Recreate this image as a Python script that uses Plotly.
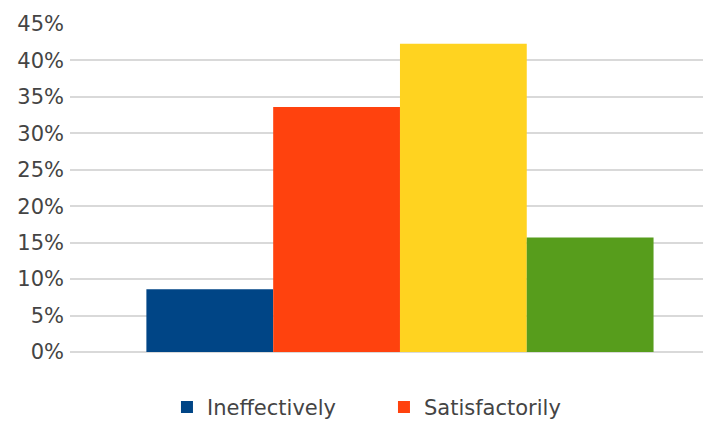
import plotly.graph_objects as go

series_names = ["Ineffectively", "Satisfactorily", "Effectively", "Very effectively"]
series_values = [8.6, 33.6, 42.3, 15.7]
series_colors = ["#004586", "#ff420e", "#ffd320", "#579d1c"]
legend_shown = [True, True, False, False]
y_ticks = [0, 5, 10, 15, 20, 25, 30, 35, 40, 45]
y_tick_labels = [f"{v}%" for v in y_ticks]

fig = go.Figure()
for name, val, col, show in zip(series_names, series_values, series_colors, legend_shown):
    fig.add_trace(go.Bar(
        x=[0], y=[val], name=name, marker=dict(color=col, line=dict(width=0)),
        showlegend=show,
    ))

fig.update_layout(
    width=703, height=423,
    margin=dict(l=70, r=0, t=24, b=71, autoexpand=False),
    paper_bgcolor="white", plot_bgcolor="white",
    barmode="group", bargap=0.2, bargroupgap=0,
    font=dict(family="DejaVu Sans, sans-serif", size=21, color="#444444"),
    xaxis=dict(range=[-0.5205, 0.478], showticklabels=False, showgrid=False,
               zeroline=False, showline=False, fixedrange=True, automargin=False),
    yaxis=dict(range=[0, 45], tickvals=y_ticks, ticktext=y_tick_labels,
               showgrid=True, gridcolor="#d9d9d9", gridwidth=2,
               zeroline=True, zerolinecolor="#d9d9d9", zerolinewidth=2,
               showline=False, ticks="", ticklabelstandoff=5, automargin=False),
    legend=dict(orientation="h", x=0.1532, xanchor="left", y=-0.1684, yanchor="middle",
                font=dict(size=21, color="#444444"), itemwidth=30,
                entrywidth=172, entrywidthmode="pixels",
                traceorder="normal"),
)

fig.write_html(
    "out.html",
    config={"displayModeBar": False},
    post_script="document.body.style.margin='0';document.body.style.overflow='hidden';",
)
